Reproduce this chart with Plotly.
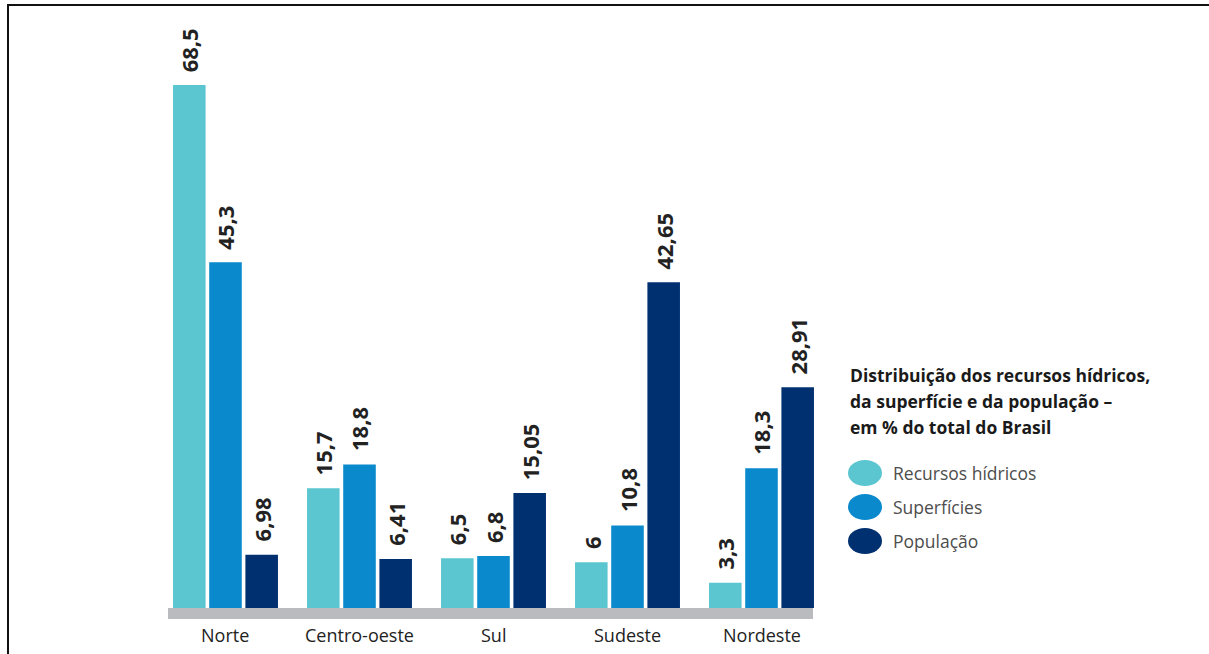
import plotly.graph_objects as go

# Regions and the share (%) of Brazil's water resources, area and population
regioes = ["Norte", "Centro-oeste", "Sul", "Sudeste", "Nordeste"]
recursos_hidricos = [68.5, 15.7, 6.5, 6.0, 3.3]
superficies = [45.3, 18.8, 6.8, 10.8, 18.3]
populacao = [6.98, 6.41, 15.05, 42.65, 28.91]

series_nomes = ["Recursos hídricos", "Superfícies", "População"]
series_cores = ["#5bc6d0", "#0a89cc", "#00306f"]
titulo_legenda = [
    "Distribuição dos recursos hídricos,",
    "da superfície e da população –",
    "em % do total do Brasil",
]

W, H = 1209, 654
FONT = "Open Sans"

# pixel helpers for paper-referenced decorations
def px(x):
    return x / W

def py(y):
    return 1 - y / H

series_vals = [recursos_hidricos, superficies, populacao]
xs = list(range(len(regioes)))

fig = go.Figure()
for nome, cor, vals in zip(series_nomes, series_cores, series_vals):
    fig.add_trace(go.Bar(
        x=xs, y=vals, name=nome,
        marker=dict(color=cor, line=dict(width=0)),
        showlegend=False, hoverinfo="skip",
    ))

bargap = 0.19
bargroupgap = 0.1
slot = (1 - bargap) / 3
offsets = [-slot, 0, slot]

annotations = []

def fmt(v):
    return f"{v:g}".replace(".", ",")

# value labels, rotated, above each bar
for k, vals in enumerate(series_vals):
    for i, v in enumerate(vals):
        annotations.append(dict(
            x=i + offsets[k], y=v, xref="x", yref="y",
            text="<b>" + fmt(v) + "</b>", textangle=-90,
            showarrow=False, xanchor="center", yanchor="bottom",
            yshift=11,
            font=dict(family=FONT, size=22, color="#222222"),
        ))

# region names under the grey base band
for i, r in enumerate(regioes):
    annotations.append(dict(
        x=i, y=py(635), xref="x", yref="paper",
        text=r, showarrow=False, xanchor="center", yanchor="middle",
        font=dict(family=FONT, size=18, color="#222222"),
    ))

# legend title
for j, linha in enumerate(titulo_legenda):
    annotations.append(dict(
        x=px(848), y=py(375 + 26 * j), xref="paper", yref="paper",
        text="<b>" + linha + "</b>", showarrow=False,
        xanchor="left", yanchor="middle",
        font=dict(family=FONT, size=17.5, color="#1a1a1a"),
    ))

shapes = []
# legend entries: coloured ellipses with labels
for j, (nome, cor) in enumerate(zip(series_nomes, series_cores)):
    cy = 473 + 34 * j
    shapes.append(dict(
        type="circle", xref="paper", yref="paper",
        x0=px(848), x1=px(882), y0=py(cy + 13), y1=py(cy - 13),
        fillcolor=cor, line=dict(width=0),
    ))
    annotations.append(dict(
        x=px(891), y=py(cy), xref="paper", yref="paper",
        text=nome, showarrow=False, xanchor="left", yanchor="middle",
        font=dict(family=FONT, size=17.5, color="#4d4d4d"),
    ))

# grey base band under the bars
shapes.append(dict(
    type="rect", xref="paper", yref="paper",
    x0=px(168), x1=px(813), y0=py(619), y1=py(608),
    fillcolor="#b9bbbe", line=dict(width=0), layer="below",
))

# frame lines (top and left)
shapes.append(dict(type="line", xref="paper", yref="paper",
                   x0=px(7), x1=1, y0=py(5), y1=py(5),
                   line=dict(color="#111111", width=2)))
shapes.append(dict(type="line", xref="paper", yref="paper",
                   x0=px(8), x1=px(8), y0=py(5), y1=0,
                   line=dict(color="#111111", width=2)))

scale = (608 - 85) / 68.5  # pixels per percentage point
y_lo = (608 - H) / scale
y_hi = 608 / scale

fig.update_layout(
    width=W, height=H,
    margin=dict(l=0, r=0, t=0, b=0),
    paper_bgcolor="white", plot_bgcolor="white",
    barmode="group", bargap=bargap, bargroupgap=bargroupgap,
    xaxis=dict(domain=[px(158.5), px(828.5)], range=[-0.5, 4.5],
               visible=False, fixedrange=True),
    yaxis=dict(domain=[0, 1], range=[y_lo, y_hi], visible=False,
               fixedrange=True),
    annotations=annotations,
    shapes=shapes,
    showlegend=False,
)

fig.write_html("out.html", config={"displayModeBar": False})
